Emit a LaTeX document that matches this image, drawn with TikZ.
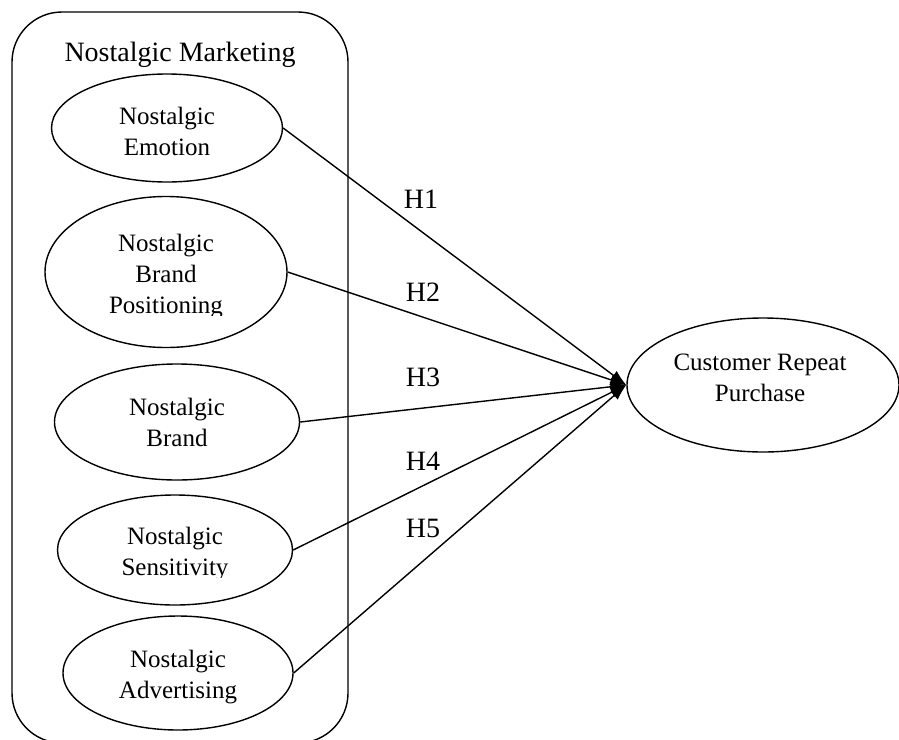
\documentclass[tikz,border=0pt]{standalone}
\usepackage{fontspec}
\setmainfont{Liberation Serif}
\usetikzlibrary{shapes.geometric,arrows.meta}
\begin{document}
\begin{tikzpicture}[x=1pt,y=-1pt,
  oval/.style={draw,ellipse,line width=1.4pt,inner sep=0pt},
  intext/.style={inner sep=0pt,align=center,font=\fontsize{25}{31}\selectfont},
  lbl/.style={font=\fontsize{28}{32}\selectfont,inner sep=0pt},
  link/.style={line width=1.4pt,-{Latex[length=16pt,width=11pt]}}]
\clip (0,0) rectangle (899,739);
\fill[white] (0,0) rectangle (899,739);
\draw[line width=1.4pt,rounded corners=50pt] (12,12) rectangle (348,743);
\node[lbl] (title) at (180,55) {Nostalgic Marketing};
\node[oval,minimum width=231pt,minimum height=108pt] (e1) at (167,128) {};
\node[intext] (t1) at (167,131) {Nostalgic\\Emotion};
\node[oval,minimum width=242pt,minimum height=151pt] (e2) at (166,272) {};
\begin{scope}
\clip (40,200) rectangle (290,315);
\node[intext] (t2) at (166,277) {Nostalgic\\Brand\\Positioning};
\end{scope}
\node[oval,minimum width=245pt,minimum height=116pt] (e3) at (177,422) {};
\node[intext] (t3) at (177,422) {Nostalgic\\Brand};
\node[oval,minimum width=235pt,minimum height=110pt] (e4) at (175,550) {};
\begin{scope}
\clip (50,500) rectangle (300,577);
\node[intext] (t4) at (175,554) {Nostalgic\\Sensitivity};
\end{scope}
\node[oval,minimum width=230pt,minimum height=114pt] (e5) at (178,673) {};
\node[intext] (t5) at (178,677) {Nostalgic\\Advertising};
\node[oval,minimum width=272pt,minimum height=134pt] (c) at (763,385) {};
\node[intext] (tc) at (760,378) {Customer Repeat\\Purchase};
\draw[link] (e1.east) -- (c.west);
\draw[link] (e2.east) -- (c.west);
\draw[link] (e3.east) -- (c.west);
\draw[link] (e4.east) -- (c.west);
\draw[link] (e5.east) -- (c.west);
\node[lbl] (h1) at (421,199) {H1};
\node[lbl] (h2) at (423,292) {H2};
\node[lbl] (h3) at (423,377) {H3};
\node[lbl] (h4) at (423,461) {H4};
\node[lbl] (h5) at (423,528) {H5};
\end{tikzpicture}
\end{document}
